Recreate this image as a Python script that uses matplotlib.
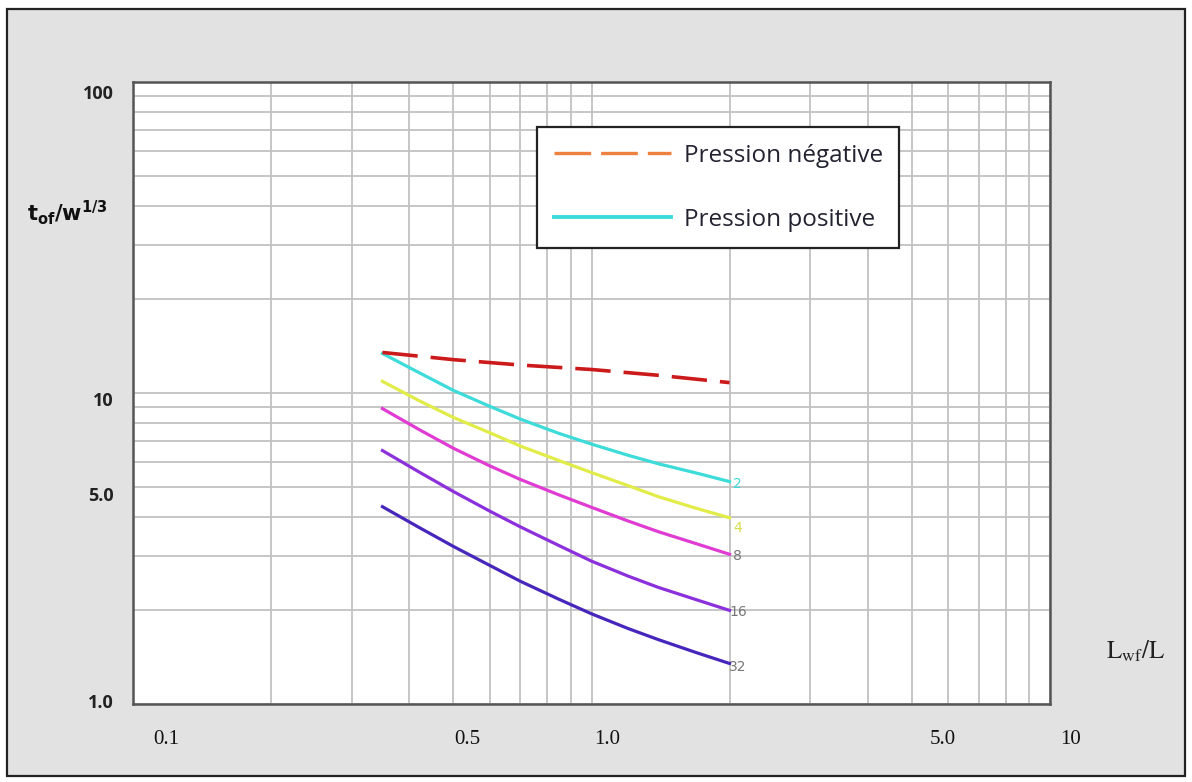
import matplotlib
matplotlib.use("Agg")
import matplotlib.pyplot as plt
from matplotlib.lines import Line2D
from matplotlib.patches import Rectangle
from matplotlib.ticker import NullFormatter, LogLocator
from matplotlib.transforms import ScaledTranslation

# values (log-log)
x_lwf = [0.35, 0.42, 0.5, 0.6, 0.7, 0.85, 1.0, 1.2, 1.4, 1.7, 2.0]
x_neg = [0.35, 0.5, 0.7, 1.0, 1.4, 2.0]
y_neg = [13.5, 12.8, 12.3, 11.9, 11.4, 10.8]
y_pos_2 = [13.4, 11.64, 10.19, 9.06, 8.24, 7.41, 6.85, 6.31, 5.92, 5.52, 5.19]
y_pos_4 = [10.9, 9.46, 8.34, 7.45, 6.75, 6.06, 5.55, 5.04, 4.64, 4.25, 3.97]
y_pos_8 = [8.91, 7.64, 6.64, 5.83, 5.27, 4.70, 4.29, 3.88, 3.58, 3.27, 3.03]
y_pos_16 = [6.53, 5.58, 4.82, 4.17, 3.71, 3.23, 2.88, 2.58, 2.37, 2.16, 2.0]
y_pos_32 = [4.31, 3.70, 3.21, 2.79, 2.48, 2.17, 1.95, 1.75, 1.61, 1.46, 1.35]
pos_series = [y_pos_2, y_pos_4, y_pos_8, y_pos_16, y_pos_32]
pos_names = ["2", "4", "8", "16", "32"]
pos_colors = ["#3ddbd9", "#e2ec48", "#e03cd4", "#8c30dc", "#4726bc"]

x_ticks = [0.1, 0.5, 1.0, 5.0, 10]
x_ticklabels = ["0.1", "0.5", "1.0", "5.0", "10"]
y_ticks = [1, 5, 10, 100]
y_ticklabels = ["1.0", "5.0", "10", "100"]

W, H = 1192, 782
fig = plt.figure(figsize=(W / 100, H / 100), dpi=100)
fig.patch.set_facecolor("white")

# grey page with a thin border
fig.patches.append(Rectangle((7 / W, 1 - 776 / H), (1185 - 7) / W, (776 - 9) / H,
                             transform=fig.transFigure, facecolor="#e2e2e2",
                             edgecolor="#222222", lw=1.6, zorder=-1))

ax = fig.add_axes([133 / W, 1 - 704 / H, (1050 - 133) / W, (704 - 82) / H])
ax.set_facecolor("white")
ax.set_xscale("log")
ax.set_yscale("log")
ax.set_xlim(0.1, 10)
ax.set_ylim(1, 100)

ax.xaxis.set_minor_locator(LogLocator(subs=range(2, 10)))
ax.yaxis.set_minor_locator(LogLocator(subs=range(2, 10)))
ax.xaxis.set_minor_formatter(NullFormatter())
ax.yaxis.set_minor_formatter(NullFormatter())
ax.grid(True, which="both", color="#c2c2c2", lw=1.3)
ax.set_axisbelow(True)
for s in ax.spines.values():
    s.set_color("#555555")
    s.set_linewidth(1.8)

ax.set_xticks(x_ticks, x_ticklabels)
ax.set_yticks(y_ticks, y_ticklabels)
ax.tick_params(which="both", length=0)
ax.tick_params(axis="x", pad=19, labelsize=15, labelcolor="#111111")
ax.tick_params(axis="y", pad=14, labelsize=13, labelcolor="#222222")
for lab in ax.get_xticklabels():
    lab.set_fontfamily("Liberation Serif")
for lab in ax.get_yticklabels():
    lab.set_fontfamily("Open Sans")
    lab.set_fontweight("bold")

# the labels in the source sit a bit off their grid lines
x_shift = [33, 14, 16, 31, 21]
for lab, dx in zip(ax.get_xticklabels(), x_shift):
    lab.set_transform(lab.get_transform() + ScaledTranslation(dx / 100, 0, fig.dpi_scale_trans))
y_shift = [3, -7, -6, -10]
for lab, dy in zip(ax.get_yticklabels(), y_shift):
    lab.set_transform(lab.get_transform() + ScaledTranslation(0, dy / 100, fig.dpi_scale_trans))

# curves
ax.plot(x_neg, y_neg, color="#cc1a1a", lw=2.6, dashes=(9.8, 3.6), zorder=4)
for ys, c in zip(pos_series, pos_colors):
    ax.plot(x_lwf, ys, color=c, lw=2.3, zorder=3, solid_joinstyle="round")

# small curve tags at the line ends (pixel offsets downwards)
label_cols = ["#3ddbd9", "#d6df50", "#777777", "#777777", "#777777"]
label_down = [2, 10, 2, 2, 4]
for ys, name, c, d in zip(pos_series, pos_names, label_cols, label_down):
    ax.annotate(name, (2.0, ys[-1]), xytext=(6, -d * 0.72), textcoords="offset points",
                fontsize=10, color=c, ha="center", va="center", zorder=2)

handles = [Line2D([], [], color="#ee8040", lw=2.4, dashes=(11, 3)),
           Line2D([], [], color="#3ddbd9", lw=2.8)]
leg = ax.legend(handles, ["Pression négative", "Pression positive"],
                loc="upper left", bbox_to_anchor=(537 / W, 1 - 127 / H),
                bbox_transform=fig.transFigure, borderaxespad=0,
                prop={"family": "Open Sans", "size": 17.5},
                handlelength=4.85, handletextpad=0.5, labelspacing=1.65,
                borderpad=0.68, fancybox=False, framealpha=1)
leg.get_frame().set_edgecolor("#222222")
leg.get_frame().set_linewidth(1.6)
for t in leg.get_texts():
    t.set_color("#222230")

fig.text(27 / W, 1 - 213 / H, r"$\mathbf{t_{of}/w^{1/3}}$", fontsize=15,
         ha="left", va="center", color="#111111", math_fontfamily="dejavusans")
fig.text(1136 / W, 1 - 651 / H, r"$\mathrm{L_{wf}/L}$", fontsize=18,
         ha="center", va="center", color="#222222", math_fontfamily="stix")

fig.savefig("out.png", dpi=100, facecolor=fig.get_facecolor())
